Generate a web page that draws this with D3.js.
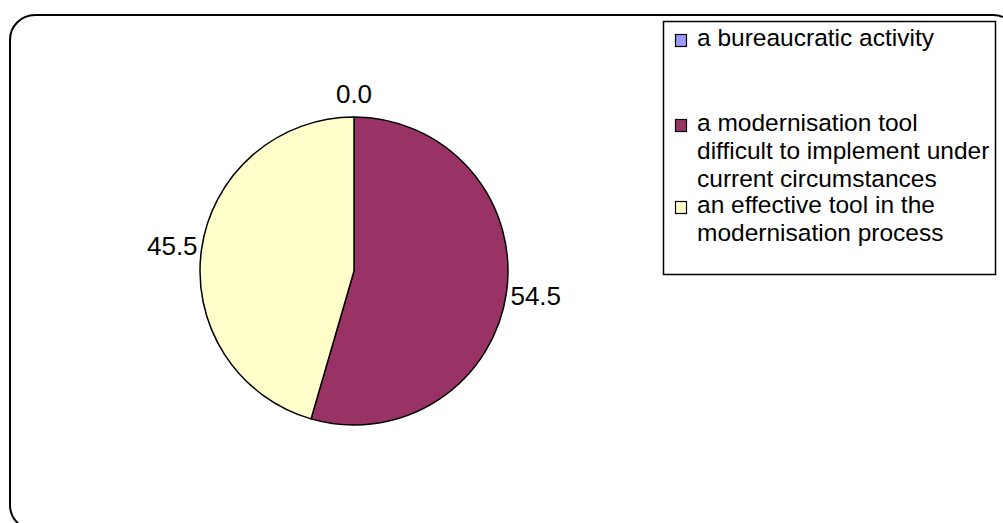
<!DOCTYPE html>
<html lang="en">
  <head>
    <meta charset="UTF-8">
    <style>
      body {
        margin: 0;
        background-color: #ffffff;
      }
      svg text {
        font-family: "Liberation Sans", Arial, sans-serif;
        fill: #000;
      }
    </style>
    <script src="https://d3js.org/d3.v7.min.js"></script>
  </head>
  <body>
    <div id="chart"></div>
    <script>
      // data
      const categories = [
        "a bureaucratic activity",
        "a modernisation tool difficult to implement under current circumstances",
        "an effective tool in the modernisation process"
      ];
      const values = [0.0, 54.5, 45.5];
      const colours = ["#9999ff", "#993366", "#ffffcc"];
      // legend lines as they wrap in the picture
      const legendLines = [
        ["a bureaucratic activity"],
        ["a modernisation tool", "difficult to implement under", "current circumstances"],
        ["an effective tool in the", "modernisation process"]
      ];

      const width = 1003, height = 523;
      const fsLabel = 26, fsLegend = 24.5;

      const svg = d3.select("#chart")
        .append("svg")
        .attr("width", width)
        .attr("height", height);

      // rounded outer frame (runs off the right and bottom)
      svg.append("rect")
        .attr("x", 10).attr("y", 15)
        .attr("width", 1008).attr("height", 515)
        .attr("rx", 25).attr("ry", 25)
        .attr("fill", "none")
        .attr("stroke", "#000")
        .attr("stroke-width", 2);

      const cx = 354, cy = 271, r = 154;

      const pie = d3.pie().sort(null).value(d => d);
      const arcs = pie(values);
      const arc = d3.arc().innerRadius(0).outerRadius(r);

      const g = svg.append("g").attr("transform", `translate(${cx},${cy})`);

      g.selectAll("path")
        .data(arcs)
        .join("path")
        .attr("d", arc)
        .attr("fill", (d, i) => colours[i])
        .attr("stroke", "#000")
        .attr("stroke-width", 1.5)
        .attr("stroke-linejoin", "round");

      // data labels, outside end
      const pad = 4;
      g.selectAll("text.lbl")
        .data(arcs)
        .join("text")
        .attr("class", "lbl")
        .attr("font-size", fsLabel)
        .attr("x", d => {
          const a = (d.startAngle + d.endAngle) / 2;
          return (r + pad) * Math.sin(a);
        })
        .attr("y", d => {
          const a = (d.startAngle + d.endAngle) / 2;
          return -(r + pad) * Math.cos(a) + 0.35 * fsLabel - Math.cos(a) * 19;
        })
        .attr("text-anchor", d => {
          const s = Math.sin((d.startAngle + d.endAngle) / 2);
          return s > 0.3 ? "start" : (s < -0.3 ? "end" : "middle");
        })
        .text(d => d3.format(".1f")(d.data));

      // legend
      const lg = svg.append("g");
      lg.append("rect")
        .attr("x", 663.5).attr("y", 21.5)
        .attr("width", 332).attr("height", 253)
        .attr("fill", "#fff")
        .attr("stroke", "#000")
        .attr("stroke-width", 1.5);

      const baselines = [46, 131, 213];
      const lineH = 28;

      const items = lg.selectAll("g.item")
        .data(categories)
        .join("g")
        .attr("class", "item");

      items.append("rect")
        .attr("x", 675.5)
        .attr("y", (d, i) => baselines[i] - 11.5)
        .attr("width", 11).attr("height", 12)
        .attr("fill", (d, i) => colours[i])
        .attr("stroke", "#000")
        .attr("stroke-width", 1.2);

      items.append("text")
        .attr("font-size", fsLegend)
        .attr("y", (d, i) => baselines[i])
        .selectAll("tspan")
        .data((d, i) => legendLines[i])
        .join("tspan")
        .attr("x", 697)
        .attr("dy", (d, j) => j === 0 ? 0 : lineH)
        .text(d => d);
    </script>
  </body>
</html>
